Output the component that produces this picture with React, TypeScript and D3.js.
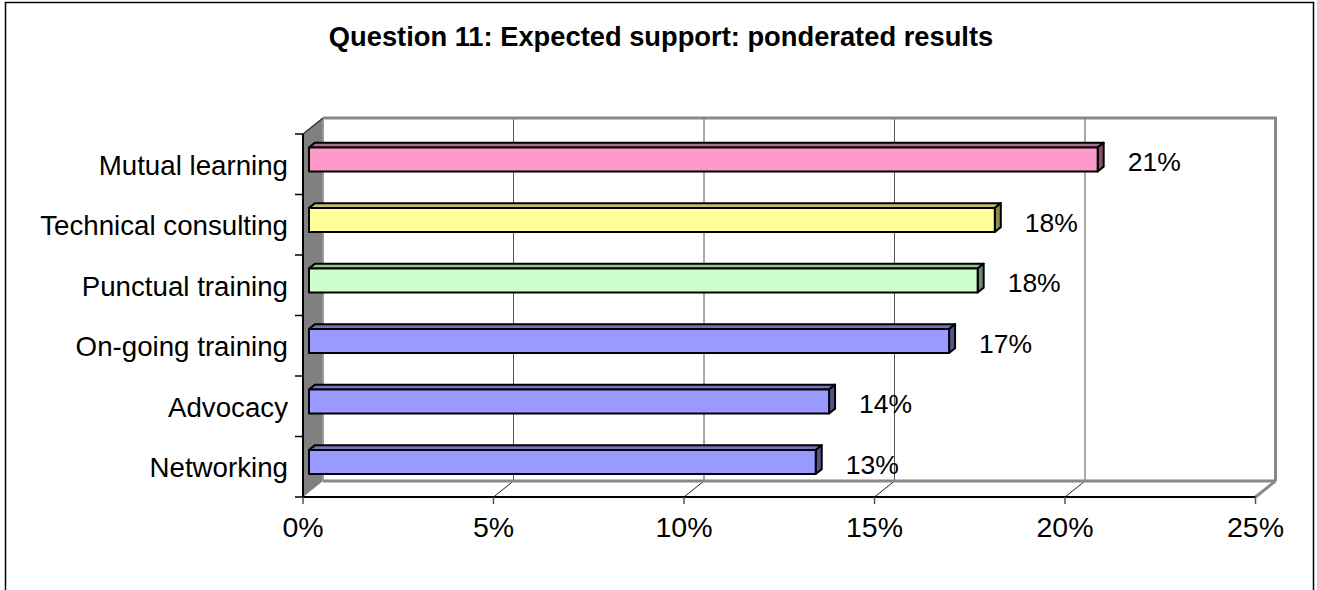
import React from "react";
import * as d3 from "d3";

const categories = ["Mutual learning", "Technical consulting", "Punctual training", "On-going training", "Advocacy", "Networking"];
const values = [20.7, 18.0, 17.55, 16.8, 13.65, 13.3];
const labels = ["21%", "18%", "18%", "17%", "14%", "13%"];
const ticks = [0, 5, 10, 15, 20, 25];
const tickLabels = ["0%", "5%", "10%", "15%", "20%", "25%"];
const title = "Question 11: Expected support: ponderated results";

const fills = [
  { front: "#FF99CC", top: "#B36B8F", side: "#8A4F6D" },
  { front: "#FFFF99", top: "#BFBF72", side: "#8C8C55" },
  { front: "#CCFFCC", top: "#99BF99", side: "#6E8C6E" },
  { front: "#9999FF", top: "#7373BF", side: "#55558C" },
  { front: "#9999FF", top: "#7373BF", side: "#55558C" },
  { front: "#9999FF", top: "#7373BF", side: "#55558C" },
];

const W = 1317;
const H = 590;
const FONT = "'Liberation Sans', Arial, Helvetica, sans-serif";

export default function App() {
  const x = d3.scaleLinear().domain([0, 25]).range([303, 1255.5]);
  const y = d3.scaleBand<string>().domain(categories).range([134, 497]).paddingInner(0);
  const DX = 20;
  const DY = -16;
  const top = 134;
  const bottom = 497;
  const barH = 24;
  const d0 = 0.3;
  const d1 = 0.6;

  const pts = (a: number[][]) => a.map((p) => p.join(",")).join(" ");

  const boundaries = categories.map((c) => y(c) as number).concat([bottom]);

  return (
    <svg width={W} height={H} style={{ position: "absolute", left: 0, top: 0, background: "#fff" }}>
      <rect x={5.5} y={2.5} width={1308} height={620} fill="#fff" stroke="#000" strokeWidth={1.5} />
      <text x={661} y={46} textAnchor="middle" fontFamily={FONT} fontWeight="bold" fontSize={27.3}>
        {title}
      </text>

      {/* back wall */}
      <rect x={x(0) + DX} y={top + DY} width={x(25) - x(0)} height={bottom - top} fill="#fff" stroke="none" />
      {/* floor */}
      <polygon
        points={pts([[x(0), bottom], [x(25), bottom], [x(25) + DX, bottom + DY], [x(0) + DX, bottom + DY]])}
        fill="#fff"
        stroke="none"
      />
      {/* gridlines on back wall */}
      {ticks.slice(1, -1).map((t) => (
        <line key={"g" + t} x1={x(t) + DX} x2={x(t) + DX} y1={bottom + DY} y2={top + DY} stroke="#555" strokeWidth={1} />
      ))}
      {/* floor diagonals */}
      {ticks.slice(1, -1).map((t) => (
        <line key={"f" + t} x1={x(t)} y1={bottom} x2={x(t) + DX} y2={bottom + DY} stroke="#222" strokeWidth={1} />
      ))}
      {/* back wall border top & right */}
      <polyline
        points={pts([[x(0) + DX, top + DY], [x(25) + DX, top + DY], [x(25) + DX, bottom + DY]])}
        fill="none"
        stroke="#888"
        strokeWidth={3}
      />
      <line x1={x(0) + DX} x2={x(25) + DX} y1={bottom + DY} y2={bottom + DY} stroke="#888" strokeWidth={3} />
      <line x1={x(25)} y1={bottom} x2={x(25) + DX} y2={bottom + DY} stroke="#888" strokeWidth={3} />
      {/* left wall */}
      <polygon
        points={pts([[x(0), top], [x(0) + DX, top + DY], [x(0) + DX, bottom + DY], [x(0), bottom]])}
        fill="#808080"
        stroke="none"
      />
      <line x1={x(0) + DX} x2={x(0) + DX} y1={top + DY} y2={bottom + DY} stroke="#999" strokeWidth={2} />
      <line x1={x(0)} y1={top} x2={x(0) + DX} y2={top + DY} stroke="#333" strokeWidth={1.5} />
      <line x1={x(0)} x2={x(0)} y1={top} y2={bottom} stroke="#000" strokeWidth={2} />
      {/* front floor edge */}
      <line x1={x(0)} x2={x(25)} y1={bottom} y2={bottom} stroke="#000" strokeWidth={2} />

      {/* left axis ticks */}
      {boundaries.map((b, i) => (
        <line key={"lt" + i} x1={295} x2={x(0)} y1={b} y2={b} stroke="#000" strokeWidth={1.5} />
      ))}
      {/* bottom ticks */}
      {ticks.map((t) => (
        <line key={"bt" + t} x1={x(t)} x2={x(t)} y1={bottom} y2={bottom + 7} stroke="#555" strokeWidth={1.5} />
      ))}

      {/* bars */}
      {categories.map((c, i) => {
        const cy = (y(c) as number) + y.bandwidth() / 2;
        const fx = DX * d0;
        const fy = DY * d0;
        const bx = DX * d1;
        const by = DY * d1;
        const x0 = x(0) + fx;
        const x1 = x(values[i]) + fx;
        const y0 = cy - barH / 2 + fy;
        const y1 = cy + barH / 2 + fy;
        const ddx = bx - fx;
        const ddy = by - fy;
        const f = fills[i];
        return (
          <g key={c} stroke="#000" strokeWidth={2} strokeLinejoin="round">
            <polygon points={pts([[x0, y0], [x0 + ddx, y0 + ddy], [x1 + ddx, y0 + ddy], [x1, y0]])} fill={f.top} />
            <polygon points={pts([[x1, y0], [x1 + ddx, y0 + ddy], [x1 + ddx, y1 + ddy], [x1, y1]])} fill={f.side} />
            <rect x={x0} y={y0} width={x1 - x0} height={y1 - y0} fill={f.front} />
          </g>
        );
      })}

      {/* category labels */}
      {categories.map((c) => (
        <text
          key={"cl" + c}
          x={288}
          y={(y(c) as number) + y.bandwidth() / 2 + 1}
          textAnchor="end"
          dominantBaseline="central"
          fontFamily={FONT}
          fontSize={27.7}
        >
          {c}
        </text>
      ))}

      {/* data labels */}
      {categories.map((c, i) => (
        <text
          key={"dl" + c}
          x={x(values[i]) + DX * d0 + 30}
          y={(y(c) as number) + y.bandwidth() / 2 + DY * d0 + 3}
          dominantBaseline="central"
          fontFamily={FONT}
          fontSize={26.5}
        >
          {labels[i]}
        </text>
      ))}

      {/* tick labels */}
      {ticks.map((t, i) => (
        <text key={"tl" + t} x={x(t)} y={537} textAnchor="middle" fontFamily={FONT} fontSize={28.5}>
          {tickLabels[i]}
        </text>
      ))}
    </svg>
  );
}
